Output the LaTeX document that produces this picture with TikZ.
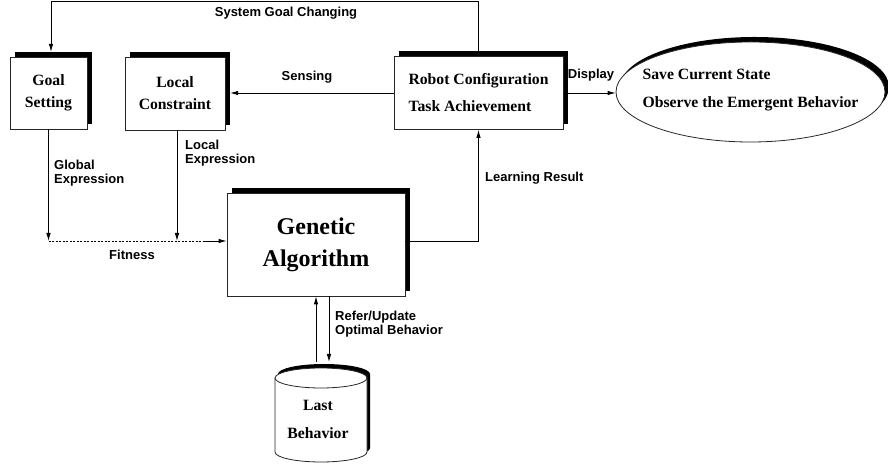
\documentclass[tikz,border=0pt]{standalone}
\usepackage{fontspec}
\setmainfont{Liberation Serif}
\setsansfont{Liberation Sans}
\usetikzlibrary{arrows.meta,calc,shapes.geometric}
\begin{document}
\begin{tikzpicture}[x=1pt,y=1pt,
  conn/.style={line width=0.8pt,-{Latex[length=8pt,width=4.5pt]}},
  plainline/.style={line width=0.8pt},
  sh/.style={fill=black,draw=none,inner sep=0pt},
  box/.style={draw=black!85,line width=0.8pt,fill=white,inner sep=0pt,align=center,font=\bfseries\fontsize{15.7}{22}\selectfont},
  btext/.style={inner sep=0pt,font=\bfseries\fontsize{15.7}{28}\selectfont},
  lbl/.style={font=\sffamily\bfseries\fontsize{13}{14}\selectfont,inner sep=0pt,align=left}]
\useasboundingbox (0,0) rectangle (888,465);

% Goal Setting
\node[sh, minimum width=77pt, minimum height=72pt] (goalsh) at (53.5,377) {};
\node[box, minimum width=77pt, minimum height=72pt] (goal) at (48.5,372) {Goal\\Setting};
% Local Constraint
\node[sh, minimum width=100pt, minimum height=73pt] (localsh) at (180,376.5) {};
\node[box, minimum width=100pt, minimum height=73pt] (local) at (175,371.5) {Local\\Constraint};
% Robot
\node[sh, minimum width=169pt, minimum height=73pt] (robotsh) at (483.5,377) {};
\node[box, minimum width=169pt, minimum height=73pt, align=left, font=\bfseries\fontsize{15.7}{27}\selectfont] (robot) at (478.5,372) {Robot Configuration\\Task Achievement};
% Genetic Algorithm
\node[sh, minimum width=178pt, minimum height=103pt] (gash) at (321,225.5) {};
\node[box, minimum width=178pt, minimum height=103pt, font=\bfseries\fontsize{24}{32}\selectfont] (ga) at (316,220.5) {Genetic\\Algorithm};
% Ellipse
\node[sh, ellipse, minimum width=269pt, minimum height=100pt] (ellsh) at (754.5,378) {};
\node[draw=black!85, line width=0.8pt, fill=white, ellipse, inner sep=0pt, minimum width=269pt, minimum height=100pt] (ell) at (750.5,373) {};
\node[btext, align=left] (ellt) at (750.5,375) {Save Current State\\Observe the Emergent Behavior};
% Cylinder
\fill[black] (278,91) -- (278,17) arc[start angle=180,end angle=360,x radius=46pt,y radius=10pt] -- (370,91) arc[start angle=0,end angle=180,x radius=46pt,y radius=10pt] -- cycle;
\draw[line width=0.8pt, draw=black!85, fill=white] (275,87) -- (275,13) arc[start angle=180,end angle=360,x radius=46pt,y radius=10pt] -- (367,87) arc[start angle=0,end angle=180,x radius=46pt,y radius=10pt] -- cycle;
\draw[line width=0.8pt, draw=black!85] (275,87) arc[start angle=180,end angle=360,x radius=46pt,y radius=10pt];
\node[btext, align=center] (db) at (318,46) {Last\\Behavior};

% Connectors
\coordinate (tl) at (51,464);
\draw[conn] (robot.north) |- (tl) -- (tl |- goalsh.north);
\draw[conn] (robot.west) -- (robot.west -| localsh.east);
\draw[conn] (robot.east) -- (robot.east -| ell.west);
\coordinate (gaout) at ([yshift=3.5pt]ga.east);
\draw[conn] (gaout) -| (robot.south);
\coordinate (gain) at ([yshift=3.5pt]ga.west);
\coordinate (lsrc) at ([xshift=2pt]local.south);
\draw[conn] (goal.south) -- (goal.south |- gain);
\draw[conn] (lsrc) -- (lsrc |- gain);
\draw[plainline, dash pattern=on 2pt off 1.5pt] (goal.south |- gain) -- ([xshift=-24pt]gain);
\draw[conn] ([xshift=-24pt]gain) -- (gain);
\coordinate (dbtop) at (321,103);
\draw[conn] (dbtop -| ga.south) -- (ga.south);
\draw[conn] ([xshift=13pt]ga.south) -- ([xshift=13pt]ga.south |- dbtop);

% Labels
\node[lbl] (lsgc) at (286,452) {System Goal Changing};
\node[lbl] (lsens) at (307,388) {Sensing};
\node[lbl] (ldisp) at (591,390) {Display};
\node[lbl, anchor=west] (lglob) at (54,292) {Global\\Expression};
\node[lbl, anchor=west] (lloc) at (185,311.5) {Local\\Expression};
\node[lbl] (lfit) at (132,210) {Fitness};
\node[lbl, anchor=west] (llearn) at (485,287) {Learning Result};
\node[lbl, anchor=west] (lref) at (335,140.5) {Refer/Update\\Optimal Behavior};
\end{tikzpicture}
\end{document}
